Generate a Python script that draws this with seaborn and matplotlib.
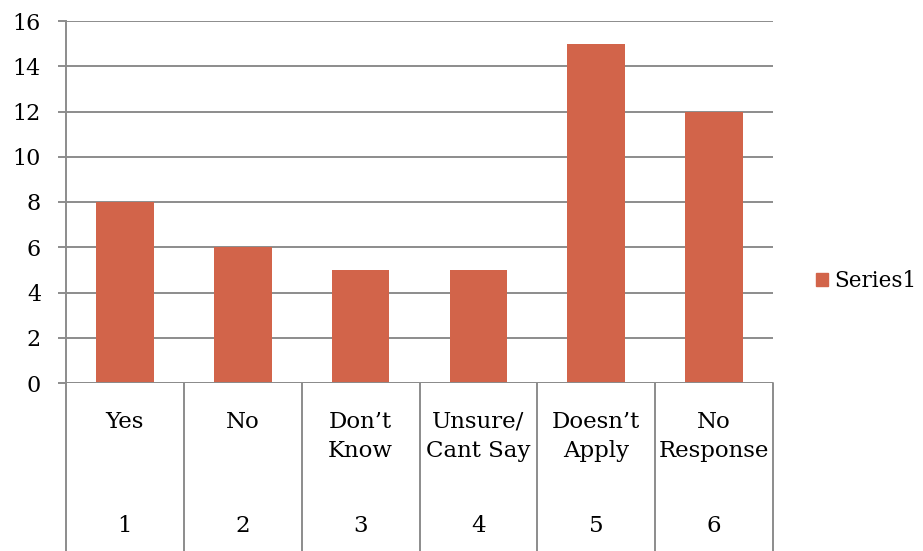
import matplotlib
matplotlib.use("Agg")
import matplotlib.pyplot as plt
import matplotlib.transforms as mtransforms
import seaborn as sns
import pandas as pd

# Survey response counts
categories = ["Yes", "No", "Don\u2019t\nKnow", "Unsure/\nCant Say", "Doesn\u2019t\nApply", "No\nResponse"]
codes = ["1", "2", "3", "4", "5", "6"]
values = [8, 6, 5, 5, 15, 12]
series_name = "Series1"
y_ticks = [0, 2, 4, 6, 8, 10, 12, 14, 16]

bar_color = "#D2644A"
grid_color = "#8C8C8C"

sns.set_theme(style="white")
plt.rcParams["font.family"] = ["DejaVu Serif"]
plt.rcParams["text.color"] = "black"
plt.rcParams["ytick.color"] = "black"

W, H = 923, 551
fig = plt.figure(figsize=(W / 100, H / 100), dpi=100)
left_px, right_px, top_px, bottom_px = 66, 773, 21, 383
ax = fig.add_axes([left_px / W, 1 - bottom_px / H,
                   (right_px - left_px) / W, (bottom_px - top_px) / H])

df = pd.DataFrame({"code": codes, "value": values, "series": series_name})
sns.barplot(data=df, x="code", y="value", hue="series", palette=[bar_color],
            width=0.49, saturation=1, ax=ax, legend=False, zorder=3,
            linewidth=0)

ax.set_xlim(-0.5, len(codes) - 0.5)
ax.set_ylim(0, 16)
ax.set_yticks(y_ticks)
ax.set_yticklabels([str(t) for t in y_ticks], fontsize=16, color="black")
ax.set_xticks([])
ax.set_xlabel("")
ax.set_ylabel("")

# Horizontal gridlines and outward tick marks
ax.yaxis.grid(True, color=grid_color, linewidth=1.4, zorder=0)
ax.xaxis.grid(False)
ax.tick_params(axis="y", length=6, width=1.4, color=grid_color, pad=12, left=True,
               labelcolor="black")
for side in ["top", "right", "bottom"]:
    ax.spines[side].set_visible(False)
ax.spines["left"].set_color(grid_color)
ax.spines["left"].set_linewidth(1.4)
ax.axhline(0, color=grid_color, linewidth=1.4, zorder=4)

# Two-level category table below the axis
axes_h = bottom_px - top_px
bottom_frac = -(H - bottom_px) / axes_h
trans = mtransforms.blended_transform_factory(ax.transData, ax.transAxes)
for b in range(len(codes) + 1):
    ax.plot([b - 0.5, b - 0.5], [0, bottom_frac], color=grid_color,
            linewidth=1.4, transform=trans, clip_on=False)

name_top = -(411 - bottom_px) / axes_h
code_y = -(526 - bottom_px) / axes_h
for i, (cat, code) in enumerate(zip(categories, codes)):
    ax.text(i, name_top, cat, transform=trans, ha="center", va="top",
            fontsize=16.5, linespacing=1.42, color="black")
    ax.text(i, code_y, code, transform=trans, ha="center", va="center",
            fontsize=16.5, color="black")

# Legend
handle = plt.Rectangle((0, 0), 1, 1, color=bar_color)
leg = fig.legend([handle], [series_name], loc="center left",
                 bbox_to_anchor=(816 / W, 1 - 281 / H), frameon=False,
                 fontsize=15.5, handlelength=0.55, handleheight=0.55,
                 handletextpad=0.3, borderpad=0, borderaxespad=0)
for t in leg.get_texts():
    t.set_color("black")

fig.savefig("out.png", dpi=100)
